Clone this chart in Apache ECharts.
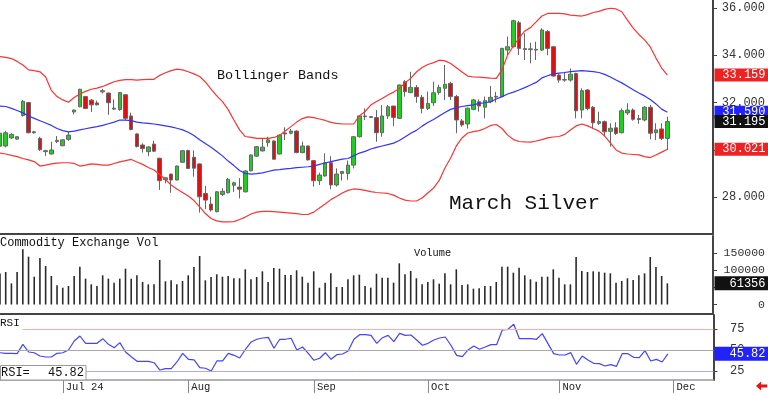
<!DOCTYPE html>
<html><head><meta charset="utf-8">
<script src="https://cdn.jsdelivr.net/npm/echarts@6/dist/echarts.min.js"></script>
<style>html,body{margin:0;padding:0;background:#fff}#c{width:768px;height:395px}</style>
</head><body><div id="c"></div>
<script>
// ---- categories (trading days) ----
const dates = [
'06-13','06-14','06-17','06-18','06-20','06-21','06-24','06-25','06-26','06-27','06-28',
'07-01','07-02','07-03','07-05','07-08','07-09','07-10','07-11','07-12','07-15','07-16','07-17','07-18','07-19','07-22','07-23','07-24','07-25','07-26','07-29','07-30','07-31',
'08-01','08-02','08-05','08-06','08-07','08-08','08-09','08-12','08-13','08-14','08-15','08-16','08-19','08-20','08-21','08-22','08-23','08-26','08-27','08-28','08-29','08-30',
'09-03','09-04','09-05','09-06','09-09','09-10','09-11','09-12','09-13','09-16','09-17','09-18','09-19','09-20','09-23','09-24','09-25','09-26','09-27','09-30',
'10-01','10-02','10-03','10-04','10-07','10-08','10-09','10-10','10-11','10-14','10-15','10-16','10-17','10-18','10-21','10-22','10-23','10-24','10-25','10-28','10-29','10-30','10-31',
'11-01','11-04','11-05','11-06','11-07','11-08','11-11','11-12','11-13','11-14','11-15','11-18','11-19','11-20','11-21','11-22','11-25','11-26','11-27','11-29',
'12-02','12-03','12-04','12-05','12-06','12-09','12-10','12-11'];
const monthLabels = {'07':'Jul 24','08':'Aug','09':'Sep','10':'Oct','11':'Nov','12':'Dec'};

// ---- price OHLC ----
const openP = [30.15,30.16,30.50,30.45,31.45,32.00,30.72,30.48,29.92,29.82,
30.35,30.17,30.44,31.60,31.82,32.25,32.10,31.98,32.45,32.40,
31.72,31.70,32.33,31.43,30.67,30.20,29.92,30.24,29.64,28.73,
28.97,28.72,29.47,29.97,29.68,29.40,28.15,27.70,27.38,28.11,
28.18,28.50,28.42,28.22,29.11,29.73,29.95,30.30,30.37,29.82,
30.71,30.70,30.79,29.88,30.16,29.54,28.69,28.89,29.45,28.51,
29.00,28.99,29.35,30.55,31.43,31.40,31.36,30.72,31.43,31.85,
31.33,32.88,32.42,32.64,32.22,31.75,31.99,32.42,32.60,32.81,
32.25,31.22,31.09,31.71,32.03,31.80,32.03,32.26,32.25,34.22,
34.36,35.38,34.28,34.24,34.22,34.22,35.00,34.36,33.16,32.95,
32.95,33.23,31.68,32.53,31.80,31.12,31.19,30.78,30.93,30.72,
31.56,31.68,31.32,31.26,31.80,30.72,30.88,30.48];
const highP = [30.80,30.80,30.70,30.58,32.10,32.02,30.80,30.55,30.00,30.34,
30.58,30.45,30.78,31.70,32.58,32.28,32.15,32.08,32.58,32.42,
32.13,32.45,32.36,31.57,30.70,30.27,30.15,30.38,29.66,28.85,
28.98,29.33,29.98,30.00,29.97,29.42,28.47,28.01,28.25,28.37,
28.80,28.65,28.80,29.13,29.80,30.15,30.48,30.55,30.40,30.65,
30.95,30.88,30.82,30.34,30.18,29.56,29.03,29.85,29.73,29.21,
29.10,29.54,30.58,31.46,31.75,31.42,31.68,31.89,31.90,31.86,
32.76,32.95,33.30,32.74,32.32,32.46,32.88,32.75,33.59,32.88,
32.32,31.30,31.78,32.15,32.13,32.25,32.70,32.45,34.32,34.79,
35.50,35.46,34.93,34.53,34.57,35.14,35.07,34.39,33.23,33.30,
33.44,33.26,32.60,32.57,31.85,31.61,31.24,31.12,31.16,31.75,
31.97,31.75,31.47,31.85,31.90,31.12,31.12,31.40];
const lowP = [30.05,30.10,30.45,30.42,31.40,30.70,30.68,29.95,29.74,29.80,
30.28,30.15,30.38,31.50,31.80,31.72,31.60,31.88,32.38,31.48,
31.68,31.65,31.25,30.82,30.10,29.88,29.73,29.90,28.30,28.58,
28.18,28.70,29.45,29.20,28.86,27.34,27.49,27.38,27.35,28.04,
28.15,28.22,27.94,28.19,29.08,29.70,29.93,30.13,29.58,29.80,
30.41,30.65,29.85,29.85,29.55,28.44,28.51,28.86,28.33,28.44,
28.70,28.73,29.21,30.52,31.26,31.35,30.34,30.55,31.30,31.00,
31.30,32.25,32.39,31.99,31.54,31.68,31.85,32.33,32.10,32.10,
30.70,30.97,30.90,31.67,31.61,31.33,31.97,32.00,32.22,34.01,
34.33,34.01,33.80,33.66,33.80,34.18,34.00,33.08,32.84,32.88,
32.88,31.33,31.33,31.67,30.90,31.05,30.60,30.13,30.62,30.69,
31.47,31.23,31.10,31.20,30.44,30.41,30.41,29.99];
const closeP = [30.70,30.72,30.65,30.55,32.05,30.72,30.76,30.00,29.96,29.99,
30.40,30.42,30.62,31.68,32.56,31.75,31.90,31.90,32.50,31.99,
31.76,32.42,31.33,30.86,30.14,30.05,30.12,29.94,28.69,28.81,
28.72,29.31,29.96,29.21,29.22,28.01,27.87,27.45,28.22,28.24,
28.75,28.60,28.33,29.10,29.78,30.13,30.11,30.42,29.60,30.62,
30.67,30.79,29.88,30.16,29.57,28.69,28.93,29.45,28.51,28.97,
29.08,29.35,30.55,31.43,31.40,31.37,30.72,31.43,31.82,31.37,
32.74,32.46,32.64,32.25,31.75,31.96,32.41,32.64,32.77,32.25,
31.26,31.05,31.76,32.11,31.85,32.08,32.22,32.23,34.29,34.36,
35.46,34.29,34.24,34.27,34.25,35.07,34.29,33.12,32.95,32.97,
33.20,31.65,32.50,31.75,31.14,31.19,30.76,30.91,30.69,31.65,
31.68,31.29,31.28,31.80,30.70,30.84,30.48,31.195];

// ---- Bollinger bands ----
const upperBand = [33.94,33.91,33.86,33.74,33.59,33.38,33.35,33.30,33.08,32.51,
32.25,32.11,32.01,32.21,32.36,32.47,32.56,32.61,32.68,32.78,
32.88,32.94,32.97,32.97,32.95,32.97,32.98,32.98,33.15,33.26,
33.35,33.41,33.38,33.30,33.21,33.10,32.87,32.57,32.28,32.04,
31.70,31.26,30.84,30.56,30.52,30.48,30.48,30.48,30.52,30.60,
30.79,30.98,31.17,31.32,31.39,31.36,31.30,31.24,31.16,31.12,
31.09,31.09,31.09,31.43,31.62,31.89,32.04,32.17,32.32,32.44,
32.59,32.83,33.02,33.29,33.48,33.61,33.69,33.79,33.76,33.65,
33.47,33.29,33.12,33.08,33.07,33.05,33.03,33.02,33.38,34.01,
34.39,34.73,35.03,35.17,35.41,35.66,35.77,35.77,35.77,35.75,
35.70,35.68,35.66,35.72,35.81,35.86,35.94,35.99,35.96,35.84,
35.49,35.15,34.88,34.65,34.35,33.88,33.46,33.159];
const middleBand = [31.85,31.83,31.75,31.66,31.56,31.43,31.33,31.23,31.13,31.03,
30.90,30.81,30.76,30.79,30.84,30.89,30.94,30.98,31.03,31.10,
31.17,31.26,31.25,31.23,31.17,31.14,31.12,31.09,31.05,31.01,
30.97,30.91,30.84,30.74,30.60,30.42,30.26,30.11,29.93,29.74,
29.52,29.33,29.12,29.00,28.97,28.99,29.02,29.08,29.14,29.16,
29.19,29.21,29.24,29.26,29.28,29.31,29.38,29.44,29.50,29.55,
29.60,29.63,29.74,29.86,29.93,30.03,30.10,30.16,30.22,30.28,
30.39,30.54,30.70,30.82,31.00,31.15,31.28,31.43,31.58,31.71,
31.78,31.83,31.87,31.90,31.96,31.99,32.03,32.15,32.25,32.36,
32.44,32.53,32.63,32.74,32.85,33.04,33.13,33.21,33.24,33.27,
33.31,33.33,33.35,33.33,33.31,33.27,33.19,33.08,32.95,32.83,
32.69,32.54,32.40,32.28,32.13,31.94,31.72,31.59];
const lowerBand = [29.86,29.82,29.76,29.71,29.63,29.57,29.50,29.31,29.35,29.40,
29.43,29.45,29.45,29.42,29.31,29.35,29.40,29.38,29.35,29.35,
29.42,29.49,29.54,29.59,29.48,29.38,29.25,29.14,28.95,28.74,
28.51,28.34,28.19,28.04,27.85,27.58,27.30,27.09,26.99,26.95,
26.95,26.96,27.05,27.15,27.28,27.36,27.39,27.39,27.38,27.36,
27.34,27.32,27.30,27.26,27.26,27.36,27.53,27.70,27.89,28.02,
28.17,28.28,28.34,28.32,28.28,28.23,28.19,28.17,28.15,28.08,
27.96,27.87,27.83,27.83,27.96,28.17,28.38,28.70,29.23,29.65,
30.16,30.50,30.71,30.77,30.81,30.90,31.03,31.07,30.90,30.62,
30.43,30.35,30.33,30.32,30.37,30.43,30.50,30.54,30.56,30.65,
30.84,31.01,31.09,31.01,30.90,30.79,30.58,30.29,29.99,29.86,
29.82,29.80,29.78,29.71,29.67,29.78,29.90,30.021];

// ---- volume ----
const volume = [90000,94250,61400,94250,160000,138700,80700,134900,111650,82650,
55600,48800,53650,82650,109700,74900,58500,53650,84600,74900,
63300,74900,103900,74900,84600,65250,58500,58500,129050,67200,
70150,58500,68150,84600,108750,140650,70150,79750,87500,80700,
82650,76050,76050,102050,73000,79750,96200,65250,105850,103900,
85550,85550,99100,80700,63300,96200,48800,63300,90400,50750,
50750,73000,84600,86450,53650,48800,89300,77800,77800,63300,
119400,87500,97150,76000,58500,65250,73000,60400,90400,58500,
102000,56550,58500,45900,46900,53650,53650,65250,109700,109700,
92300,106800,84600,73000,66250,80700,80700,102000,77800,58500,
58500,137750,97150,94250,96200,95200,92300,90400,63300,68150,
76000,71050,84600,90400,137750,108750,82650,61356];

// ---- RSI ----
const rsi = [47.1,46.4,46.4,46.0,57.1,48.0,47.1,43.2,42.0,42.0,
46.4,47.1,50.4,61.1,67.0,58.3,58.3,58.3,63.8,57.1,
53.1,59.1,48.0,42.4,36.9,36.9,36.9,35.2,26.5,28.1,
28.1,36.1,46.4,39.3,38.5,29.3,28.6,25.4,37.3,37.3,
46.4,44.0,40.8,51.2,59.9,63.1,64.6,65.4,52.4,63.1,
63.1,64.3,50.4,53.9,46.4,38.1,40.5,47.1,39.3,44.8,
45.6,49.2,63.1,68.6,68.6,67.8,58.3,65.0,67.8,60.3,
70.2,67.8,68.2,62.3,56.0,58.3,62.3,64.6,65.8,56.0,
44.0,42.4,50.4,55.1,51.2,53.9,56.7,56.7,74.2,75.0,
80.9,63.8,63.8,63.8,63.1,69.8,57.9,46.0,44.4,44.4,
47.2,33.3,43.2,38.5,34.5,34.1,31.3,32.9,30.9,46.0,
46.0,41.6,41.2,49.6,37.3,39.2,36.1,45.82];

// ---- axis tick labels ----
const priceTicks = [28, 30, 32, 34, 36];
const volTicks = [0, 50000, 100000, 150000];
const rsiTicks = [25, 50, 75];
const lastLabels = {upper: '33.159', middle: '31.590', close: '31.195', lower: '30.021', vol: '61356', rsi: '45.82'};

const F = "'Liberation Mono','DejaVu Sans Mono',monospace";
const ohlc = openP.map((o, i) => [o, closeP[i], lowP[i], highP[i]]);
const isMonthStart = (i) => i > 0 && dates[i].slice(0,2) !== dates[i-1].slice(0,2);

const GL = -1.3, GR = 54.5;
const hiddenX = (g, lineW, lineC) => ({
  type: 'category', gridIndex: g, data: dates, boundaryGap: false,
  axisLine: {show: true, onZero: false, lineStyle: {color: lineC, width: lineW}},
  axisTick: {show: false}, axisLabel: {show: false}, splitLine: {show: false}
});
const rightY = (g, min, max, ticks, fmt, margin, fs) => ({
  type: 'value', gridIndex: g, position: 'right', min, max, scale: true,
  splitLine: {show: false},
  axisLine: {show: true, lineStyle: {color: '#444', width: 2}},
  axisTick: {show: true, customValues: ticks, length: 4, lineStyle: {color: '#444'}},
  axisLabel: {customValues: ticks, formatter: fmt, align: 'right', margin, fontFamily: F, fontSize: fs, color: '#333'}
});

const option = {
  animation: false,
  backgroundColor: '#fff',
  grid: [
    {left: GL, right: GR, top: 0, height: 234},
    {left: GL, right: GR, top: 236, height: 78},
    {left: GL, right: GR, top: 315, height: 65}
  ],
  xAxis: [
    hiddenX(0, 2, '#444'),
    hiddenX(1, 2, '#444'),
    {
      type: 'category', gridIndex: 2, data: dates, boundaryGap: false,
      axisLine: {show: true, onZero: false, lineStyle: {color: '#999', width: 1.5}},
      axisTick: {show: true, interval: (i) => isMonthStart(i), length: 13, lineStyle: {color: '#888'}},
      axisLabel: {interval: (i) => isMonthStart(i), formatter: (v) => monthLabels[v.slice(0,2)] || '',
        align: 'left', margin: 2, padding: [0,0,0,3], fontFamily: F, fontSize: 10.5, color: '#222'},
      splitLine: {show: false}
    }
  ],
  yAxis: [
    rightY(0, 26.434, 36.3386, priceTicks, (v) => v.toFixed(3), 52, 12),
    rightY(1, -27550, 198650, volTicks, (v) => String(v), 52, 11.5),
    rightY(2, 14.64, 92.0, rsiTicks, (v) => String(v), 31, 12)
  ],
  series: [
    {type: 'line', xAxisIndex: 0, yAxisIndex: 0, data: upperBand, showSymbol: false, silent: true,
      lineStyle: {color: '#ff3333', width: 1.2}},
    {type: 'line', xAxisIndex: 0, yAxisIndex: 0, data: middleBand, showSymbol: false, silent: true,
      lineStyle: {color: '#3333ff', width: 1.2}},
    {type: 'line', xAxisIndex: 0, yAxisIndex: 0, data: lowerBand, showSymbol: false, silent: true,
      lineStyle: {color: '#ff3333', width: 1.2}},
    {type: 'candlestick', xAxisIndex: 0, yAxisIndex: 0, data: ohlc, barWidth: 4,
      itemStyle: {color: '#22cc22', color0: '#dd1111', borderColor: '#666', borderColor0: '#666', borderWidth: 1}},
    {type: 'bar', xAxisIndex: 1, yAxisIndex: 1, data: volume, barWidth: 1.6,
      itemStyle: {color: '#2a2a2a'}},
    {type: 'line', xAxisIndex: 2, yAxisIndex: 2, data: rsi, showSymbol: false,
      lineStyle: {color: '#4444ff', width: 1.2},
      markLine: {silent: true, symbol: 'none', label: {show: false},
        data: [
          {yAxis: 75, lineStyle: {color: '#ffaaaa', width: 1, type: 'solid'}},
          {yAxis: 50, lineStyle: {color: '#aaaaaa', width: 1, type: 'solid'}},
          {yAxis: 25, lineStyle: {color: '#aaaaff', width: 1, type: 'solid'}}
        ]}}
  ]
};

const chart = echarts.init(document.getElementById('c'), null, {renderer: 'canvas'});
chart.setOption(option);

function box(axisIdx, val, text, bg, h) {
  const y = chart.convertToPixel({yAxisIndex: axisIdx}, val);
  return [
    {type: 'rect', z: 100, shape: {x: 714.5, y: y - h/2, width: 54, height: h}, style: {fill: bg}},
    {type: 'text', z: 101, x: 765.5, y: y, style: {text, fill: '#fff', font: '12px ' + F, align: 'right', verticalAlign: 'middle'}}
  ];
}
const txt = (x, y, text, size, extra) => Object.assign({type: 'text', z: 101, x, y,
  style: {text, fill: '#111', font: size + 'px ' + F, align: 'left', verticalAlign: 'middle'}}, extra || {});

const g = [].concat(
  box(0, 33.159, lastLabels.upper, '#ee2222', 13),
  box(0, 31.59, lastLabels.middle, '#2222ff', 13),
  box(0, 31.195, lastLabels.close, '#111111', 13),
  box(0, 30.021, lastLabels.lower, '#ee2222', 13),
  box(1, 61356, lastLabels.vol, '#111111', 14),
  box(2, 45.82, lastLabels.rsi, '#2222ff', 14),
  [
    txt(217, 75, 'Bollinger Bands', 13.5),
    txt(449, 203, 'March Silver', 21),
    txt(0, 243, 'Commodity Exchange Vol', 12),
    txt(414, 253.5, 'Volume', 10.3),
    {type: 'rect', z: 100, shape: {x: 0, y: 316, width: 22.5, height: 14.5}, style: {fill: '#fff'}},
    txt(0, 323, 'RSI', 11),
    {type: 'rect', z: 100, shape: {x: 0.5, y: 365.5, width: 85.5, height: 14.5}, style: {fill: '#fff', stroke: '#999', lineWidth: 1}},
    txt(1, 373, 'RSI=', 12),
    {type: 'text', z: 101, x: 84, y: 373, style: {text: lastLabels.rsi, fill: '#111', font: '12px ' + F, align: 'right', verticalAlign: 'middle'}},
    {type: 'polygon', z: 101, shape: {points: [[756,386],[761,381.5],[761,384.5],[767,384.5],[767,387.5],[761,387.5],[761,390.5]]}, style: {fill: '#ee1111'}}
  ]
);
chart.setOption({graphic: g});
</script>
</body></html>
